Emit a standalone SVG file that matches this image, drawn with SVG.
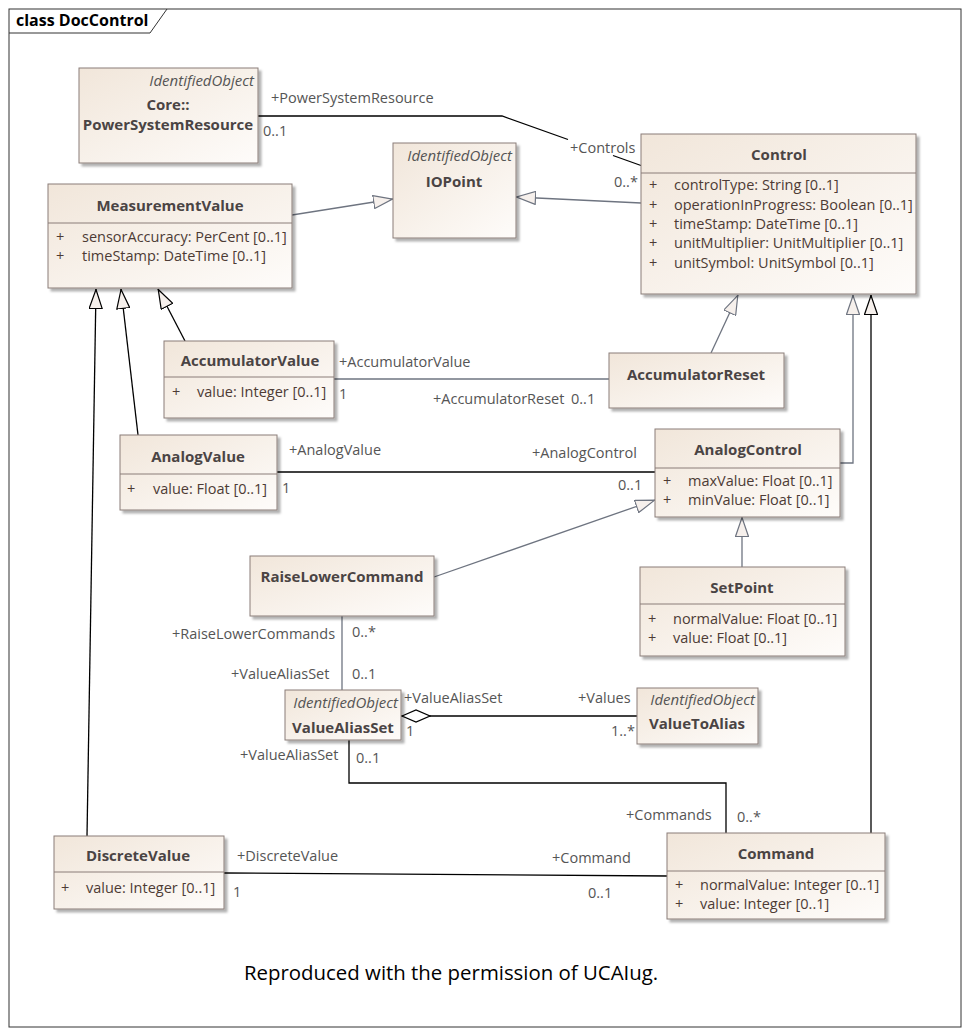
<svg xmlns="http://www.w3.org/2000/svg" width="969" height="1036" viewBox="0 0 969 1036">
<defs>
<linearGradient id="bg" x1="0" y1="0" x2="1" y2="1">
<stop offset="0" stop-color="#f1e6da"/>
<stop offset="1" stop-color="#fefcfa"/>
</linearGradient>
<filter id="sh" x="-10%" y="-10%" width="130%" height="130%">
<feDropShadow dx="3" dy="3" stdDeviation="1.2" flood-color="#000" flood-opacity="0.3"/>
</filter>
<marker id="genG" viewBox="0 0 20 14" refX="20" refY="7" markerWidth="20" markerHeight="14" markerUnits="userSpaceOnUse" orient="auto">
<path d="M0.5,0.5 L19.5,7 L0.5,13.5 z" fill="#f6f0ec" stroke="#6e7480" stroke-width="1.2"/>
</marker>
<marker id="genB" viewBox="0 0 20 14" refX="20" refY="7" markerWidth="20" markerHeight="14" markerUnits="userSpaceOnUse" orient="auto">
<path d="M0.5,0.5 L19.5,7 L0.5,13.5 z" fill="#f6f0ec" stroke="#000" stroke-width="1.2"/>
</marker>
<marker id="dia" viewBox="0 0 30 14" refX="0" refY="7" markerWidth="30" markerHeight="14" markerUnits="userSpaceOnUse" orient="auto">
<path d="M1,7 L15,1 L29,7 L15,13 z" fill="#fff" stroke="#000" stroke-width="1.3"/>
</marker>
</defs>
<style>
.box{fill:url(#bg);stroke:#8a7d78;stroke-width:1;filter:url(#sh)}
.sep{stroke:#8a7d78;stroke-width:1}
.t{font-family:"Open Sans","Noto Sans",sans-serif;font-weight:bold;font-size:15px;fill:#4a4444;text-anchor:middle}
.st{font-family:"Open Sans","Noto Sans",sans-serif;font-style:italic;font-size:15px;fill:#555;text-anchor:end}
.a{font-family:"Open Sans","Noto Sans",sans-serif;font-size:14.5px;fill:#4d3b35}
.l{font-family:"Open Sans","Noto Sans",sans-serif;font-size:14.5px;fill:#555}
.cb{fill:none;stroke:#000;stroke-width:1.3}
.cg{fill:none;stroke:#6e7480;stroke-width:1.3}
</style>
<rect x="0" y="0" width="969" height="1036" fill="#fff"/>
<g id="frame">
<rect x="9" y="9" width="952" height="1018" fill="none" stroke="#333" stroke-width="1"/>
<path d="M9,33 L150,33 L167,9" fill="none" stroke="#333" stroke-width="1"/>
<text x="16" y="26" font-family="Open Sans,Noto Sans,sans-serif" font-weight="bold" font-size="16" fill="#000">class DocControl</text>
</g>
<g id="connectors">
<path class="cb" d="M258,116 L502,116 L568,139.5 M613,155.5 L641,165.5"/>
<path class="cg" d="M292,215 L393,199" marker-end="url(#genG)"/>
<path class="cg" d="M641,203 L516,197" marker-end="url(#genG)"/>
<path class="cb" d="M185,341 L158,289" marker-end="url(#genB)"/>
<path class="cb" d="M138,435 L121,289" marker-end="url(#genB)"/>
<path class="cb" d="M87,836 L96,289" marker-end="url(#genB)"/>
<path class="cg" d="M711,353 L738,295" marker-end="url(#genG)"/>
<path class="cg" d="M840,463 L853,463 L853,295" marker-end="url(#genG)"/>
<path class="cb" d="M871,833 L871,295" marker-end="url(#genB)"/>
<path class="cg" d="M334,379 L609,379"/>
<path class="cb" d="M277,472 L655,472"/>
<path class="cg" d="M434,577 L655,500" marker-end="url(#genG)"/>
<path class="cg" d="M742,567 L742,517" marker-end="url(#genG)"/>
<path class="cg" d="M342,616 L342,690"/>
<path class="cb" d="M401,716 L637,716" marker-start="url(#dia)"/>
<path class="cb" d="M349,740 L349,783 L726,783 L726,833"/>
<path class="cb" d="M224,873 L667,876"/>
<text class="l" x="271" y="103">+PowerSystemResource</text>
<text class="l" x="263" y="136">0..1</text>
<text class="l" x="570" y="153">+Controls</text>
<text class="l" x="614" y="187">0..*</text>
<text class="l" x="339" y="367">+AccumulatorValue</text>
<text class="l" x="339" y="399">1</text>
<text class="l" x="433" y="404">+AccumulatorReset</text>
<text class="l" x="571" y="404">0..1</text>
<text class="l" x="289" y="455">+AnalogValue</text>
<text class="l" x="282" y="493">1</text>
<text class="l" x="532" y="458">+AnalogControl</text>
<text class="l" x="618" y="490">0..1</text>
<text class="l" x="172" y="639">+RaiseLowerCommands</text>
<text class="l" x="352" y="637">0..*</text>
<text class="l" x="231" y="679">+ValueAliasSet</text>
<text class="l" x="352" y="679">0..1</text>
<text class="l" x="404" y="703">+ValueAliasSet</text>
<text class="l" x="406" y="736">1</text>
<text class="l" x="578" y="703">+Values</text>
<text class="l" x="611" y="736">1..*</text>
<text class="l" x="240" y="760">+ValueAliasSet</text>
<text class="l" x="356" y="763">0..1</text>
<text class="l" x="626" y="820">+Commands</text>
<text class="l" x="737" y="822">0..*</text>
<text class="l" x="237" y="861">+DiscreteValue</text>
<text class="l" x="233" y="897">1</text>
<text class="l" x="552" y="863">+Command</text>
<text class="l" x="588" y="898">0..1</text>
</g>
<g id="PowerSystemResource">
<rect class="box" x="79" y="68" width="179" height="95"/>
<text class="st" x="254" y="86">IdentifiedObject</text>
<text class="t" x="168" y="110">Core::</text>
<text class="t" x="168" y="130">PowerSystemResource</text>
</g>
<g id="IOPoint">
<rect class="box" x="393" y="143" width="123" height="95"/>
<text class="st" x="512" y="161">IdentifiedObject</text>
<text class="t" x="454" y="187">IOPoint</text>
</g>
<g id="Control">
<rect class="box" x="641" y="134" width="275" height="160"/>
<line class="sep" x1="641" y1="173" x2="916" y2="173"/>
<text class="t" x="779" y="160">Control</text>
<text class="a" x="649" y="190">+</text><text class="a" x="674" y="190">controlType: String [0..1]</text>
<text class="a" x="649" y="210">+</text><text class="a" x="674" y="210">operationInProgress: Boolean [0..1]</text>
<text class="a" x="649" y="229">+</text><text class="a" x="674" y="229">timeStamp: DateTime [0..1]</text>
<text class="a" x="649" y="248">+</text><text class="a" x="674" y="248">unitMultiplier: UnitMultiplier [0..1]</text>
<text class="a" x="649" y="268">+</text><text class="a" x="674" y="268">unitSymbol: UnitSymbol [0..1]</text>
</g>
<g id="MeasurementValue">
<rect class="box" x="48" y="184" width="244" height="104"/>
<line class="sep" x1="48" y1="223" x2="292" y2="223"/>
<text class="t" x="170" y="211">MeasurementValue</text>
<text class="a" x="56" y="242">+</text><text class="a" x="82" y="242">sensorAccuracy: PerCent [0..1]</text>
<text class="a" x="56" y="261">+</text><text class="a" x="82" y="261">timeStamp: DateTime [0..1]</text>
</g>
<g id="AccumulatorValue">
<rect class="box" x="164" y="341" width="170" height="77"/>
<line class="sep" x1="164" y1="377" x2="334" y2="377"/>
<text class="t" x="250" y="366">AccumulatorValue</text>
<text class="a" x="172" y="397">+</text><text class="a" x="197" y="397">value: Integer [0..1]</text>
</g>
<g id="AccumulatorReset">
<rect class="box" x="609" y="353" width="175" height="55"/>
<text class="t" x="696" y="380">AccumulatorReset</text>
</g>
<g id="AnalogValue">
<rect class="box" x="120" y="435" width="157" height="75"/>
<line class="sep" x1="120" y1="474" x2="277" y2="474"/>
<text class="t" x="198" y="462">AnalogValue</text>
<text class="a" x="127" y="494">+</text><text class="a" x="153" y="494">value: Float [0..1]</text>
</g>
<g id="AnalogControl">
<rect class="box" x="655" y="429" width="185" height="88"/>
<line class="sep" x1="655" y1="468" x2="840" y2="468"/>
<text class="t" x="748" y="455">AnalogControl</text>
<text class="a" x="663" y="486">+</text><text class="a" x="688" y="486">maxValue: Float [0..1]</text>
<text class="a" x="663" y="505">+</text><text class="a" x="688" y="505">minValue: Float [0..1]</text>
</g>
<g id="RaiseLowerCommand">
<rect class="box" x="250" y="556" width="184" height="60"/>
<text class="t" x="342" y="582">RaiseLowerCommand</text>
</g>
<g id="SetPoint">
<rect class="box" x="640" y="567" width="205" height="89"/>
<line class="sep" x1="640" y1="604" x2="845" y2="604"/>
<text class="t" x="742" y="593">SetPoint</text>
<text class="a" x="648" y="624">+</text><text class="a" x="673" y="624">normalValue: Float [0..1]</text>
<text class="a" x="648" y="643">+</text><text class="a" x="673" y="643">value: Float [0..1]</text>
</g>
<g id="ValueAliasSet">
<rect class="box" x="285" y="690" width="116" height="50"/>
<text class="st" x="398" y="708">IdentifiedObject</text>
<text class="t" x="343" y="733">ValueAliasSet</text>
</g>
<g id="ValueToAlias">
<rect class="box" x="637" y="688" width="121" height="56"/>
<text class="st" x="755" y="705">IdentifiedObject</text>
<text class="t" x="697" y="729">ValueToAlias</text>
</g>
<g id="DiscreteValue">
<rect class="box" x="54" y="836" width="170" height="73"/>
<line class="sep" x1="54" y1="872" x2="224" y2="872"/>
<text class="t" x="138" y="861">DiscreteValue</text>
<text class="a" x="61" y="893">+</text><text class="a" x="86" y="893">value: Integer [0..1]</text>
</g>
<g id="Command">
<rect class="box" x="667" y="833" width="218" height="86"/>
<line class="sep" x1="667" y1="871" x2="885" y2="871"/>
<text class="t" x="776" y="859">Command</text>
<text class="a" x="675" y="890">+</text><text class="a" x="700" y="890">normalValue: Integer [0..1]</text>
<text class="a" x="675" y="909">+</text><text class="a" x="700" y="909">value: Integer [0..1]</text>
</g>
<g id="footer">
<text x="244" y="980" font-family="Open Sans,Noto Sans,sans-serif" font-size="20.4" fill="#000">Reproduced with the permission of UCAIug.</text>
</g>
</svg>
